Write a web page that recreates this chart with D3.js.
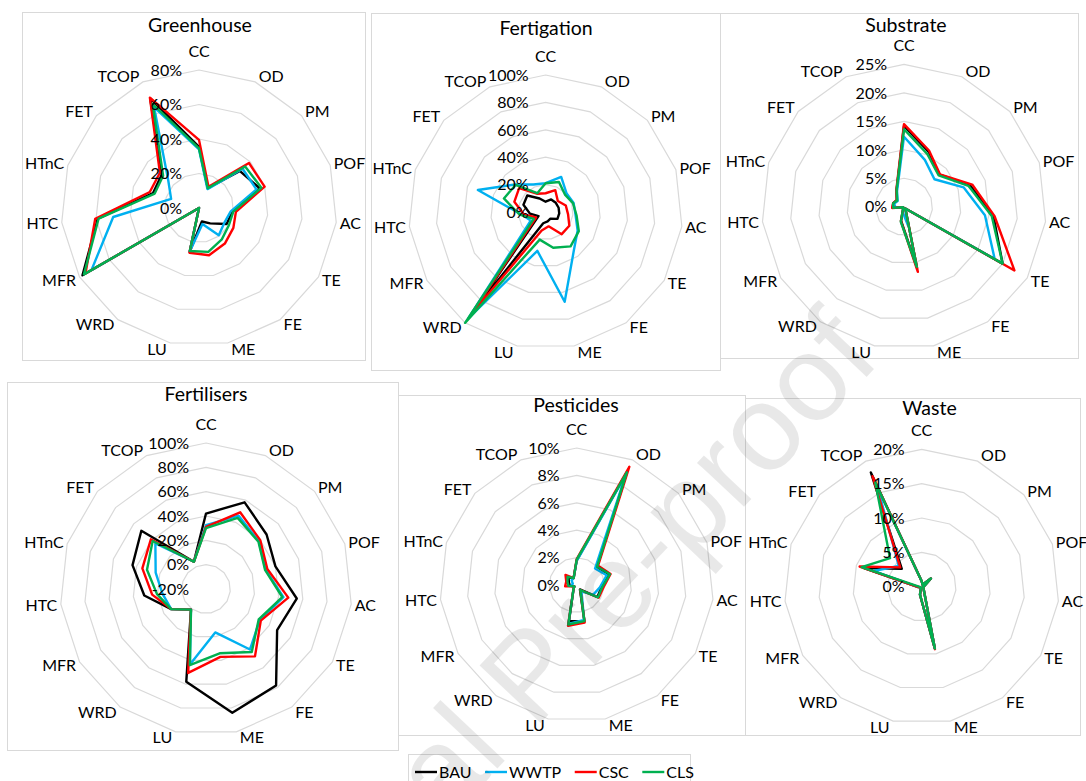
<!DOCTYPE html>
<html>
<head>
<meta charset="utf-8">
<script src="https://cdn.jsdelivr.net/npm/d3@7"></script>
<style>
  body { margin: 0; background: #ffffff; }
  svg text { font-family: Lato, "Open Sans", sans-serif; fill: #000; }
</style>
</head>
<body>
<svg id="chart" width="1086" height="781"></svg>
<script>
// Impact categories, clockwise from the top
const categories = ["CC", "OD", "PM", "POF", "AC", "TE", "FE", "ME", "LU", "WRD", "MFR", "HTC", "HTnC", "FET", "TCOP"];
const seriesNames = ["BAU", "WWTP", "CSC", "CLS"];
const seriesColors = ["#000000", "#00b0f0", "#ff0000", "#00b050"];

// Greenhouse contribution (%)
const greenhouseBAU  = [35.5, 12.5, 32, 37, 19.5, 18.5, 11, 8, 26, 0, 78, 59, 28, 29, 69.5];
const greenhouseWWTP = [34, 12, 34, 35, 18.5, 17, 19.5, 9.5, 26, 0, 72, 50, 17, 24, 64];
const greenhouseCSC  = [39.5, 13.5, 39, 40, 21.5, 23, 25.5, 28, 26.5, 0, 76, 60.5, 30, 30.5, 70];
const greenhouseCLS  = [34.5, 12.5, 36, 38, 20, 20, 22.5, 26, 25.5, 0, 77, 58.5, 27, 28, 66];
const greenhouseTicks = [0, 20, 40, 60, 80];

// Fertigation contribution (%)
const fertigationBAU  = [7.5, 10, 10, 10, 10, 10, 6, 7, 8.4, 87, 6, 11.5, 17, 18, 10.8];
const fertigationWWTP = [21, 28, 20.5, 21.5, 22, 27, 35, 67, 29, 96, 12.6, 17.6, 52, 30, 22];
const fertigationCSC  = [13.7, 17.4, 12, 15.5, 16.5, 20, 20, 10.7, 13.8, 92, 8, 16, 24, 26, 14.6];
const fertigationCLS  = [21, 24, 19, 21, 22.7, 28, 31, 26.7, 20.6, 100, 10, 19, 32, 29.5, 15];
const fertigationTicks = [0, 20, 40, 60, 80, 100];

// Substrate contribution (%)
const substrateBAU  = [14.2, 10.6, 8.4, 12.2, 15.8, 20, 0.4, 11, 2.5, 0.2, 0.2, 2, 2, 1.7, 3.2];
const substrateWWTP = [12.3, 9, 7.2, 11, 14.3, 18.4, 0.4, 3.4, 1, 0.2, 0.2, 1.5, 1.8, 1.5, 3];
const substrateCSC  = [14.5, 10.8, 8.5, 12.6, 16, 22.4, 0.4, 11.7, 2.6, 0.2, 0.2, 2.1, 2, 1.7, 3.3];
const substrateCLS  = [13.6, 10.1, 8.2, 11.9, 15.5, 20, 0.4, 10.8, 2.7, 0.2, 0.2, 1.9, 2, 1.6, 3.2];
const substrateTicks = [0, 5, 10, 15, 20, 25];

// Fertilisers contribution (%)
const fertilisersBAU  = [42, 58, 47, 40, 55, 47.5, 78, 84, 58, 1, 13, 31, 43.5, 51.5, 4.5];
const fertilisersWWTP = [32.5, 46, 38.5, 31.5, 44, 31, 41.5, 16.5, 43.5, 1, 13, 16, 23.5, 36, 4.5];
const fertilisersCSC  = [31, 49, 40, 33, 48, 32, 48.5, 37, 50.5, 1, 13, 24.5, 35, 41, 4.5];
const fertilisersCLS  = [30, 44, 38, 31, 43, 30, 44, 34, 44, 1, 13, 20.5, 31, 39, 4.5];
const fertilisersTicks = [-20, 0, 20, 40, 60, 80, 100];

// Pesticides contribution (%)
const pesticidesBAU  = [1.8, 9.0, 2.0, 2.5, 1.8, 1.75, 0.4, 2.7, 2.7, 0.4, 0.2, 0.5, 0.6, 0.8, 0.55];
const pesticidesWWTP = [1.75, 8.8, 1.8, 2.3, 1.7, 1.4, 0.6, 2.6, 2.9, 0.4, 0.2, 0.4, 0.3, 0.5, 0.55];
const pesticidesCSC  = [1.9, 9.45, 2.1, 2.6, 1.95, 1.85, 0.45, 2.8, 3.05, 0.4, 0.2, 0.85, 0.8, 1.1, 0.55];
const pesticidesCLS  = [1.85, 9.0, 2.0, 2.55, 1.85, 1.8, 0.45, 2.7, 2.95, 0.4, 0.2, 0.6, 0.7, 0.9, 0.55];
const pesticidesTicks = [0, 2, 4, 6, 8, 10];

// Waste contribution (%)
const wasteBAU  = [0.8, 0.3, 1.8, 0.4, 0.2, 0.3, 0.5, 9.2, 1.2, 0.2, 0.2, 0.5, 8.8, 3.9, 18.2];
const wasteWWTP = [0.8, 0.3, 1.8, 0.4, 0.2, 0.3, 0.5, 9.2, 1.2, 0.2, 0.2, 0.5, 7.4, 4.5, 15.7];
const wasteCSC  = [0.8, 0.3, 1.8, 0.4, 0.2, 0.3, 0.5, 9.3, 1.2, 0.2, 0.2, 0.5, 9.5, 4.2, 17.6];
const wasteCLS  = [0.8, 0.3, 1.8, 0.4, 0.2, 0.3, 0.5, 9.2, 1.2, 0.2, 0.2, 0.3, 9.2, 6.2, 16.6];
const wasteTicks = [0, 5, 10, 15, 20];

// Panel layout: frame box, radar centre/radius, title position
const panels = [
  { title: "Greenhouse",  series: [greenhouseBAU, greenhouseWWTP, greenhouseCSC, greenhouseCLS], ticks: greenhouseTicks,
    frame: [22, 12, 343, 348], cx: 199, cy: 208, r: 138, tx: 200, ty: 31.5 },
  { title: "Fertigation", series: [fertigationBAU, fertigationWWTP, fertigationCSC, fertigationCLS], ticks: fertigationTicks,
    frame: [371, 13, 349, 357], cx: 545.6, cy: 212, r: 137, tx: 546, ty: 35 },
  { title: "Substrate",   series: [substrateBAU, substrateWWTP, substrateCSC, substrateCLS], ticks: substrateTicks,
    frame: [720, 13, 358, 345], cx: 904, cy: 206.7, r: 142.3, tx: 906, ty: 31.5 },
  { title: "Fertilisers", series: [fertilisersBAU, fertilisersWWTP, fertilisersCSC, fertilisersCLS], ticks: fertilisersTicks,
    frame: [7, 382, 391, 368], cx: 206, cy: 589, r: 146, tx: 206, ty: 401 },
  { title: "Pesticides",  series: [pesticidesBAU, pesticidesWWTP, pesticidesCSC, pesticidesCLS], ticks: pesticidesTicks,
    frame: [398, 395, 347, 340], cx: 576.7, cy: 585, r: 137, tx: 576, ty: 412 },
  { title: "Waste",       series: [wasteBAU, wasteWWTP, wasteCSC, wasteCLS], ticks: wasteTicks,
    frame: [745, 398, 335, 337], cx: 921.7, cy: 586.7, r: 137.4, tx: 929.5, ty: 415 }
];

const svg = d3.select("#chart");
const n = categories.length;
const angle = d3.scaleLinear().domain([0, n]).range([0, 2 * Math.PI]);
const gridColor = "#d9d9d9";
const labelSize = "16px";

panels.forEach(p => {
  const g = svg.append("g");
  const [fx, fy, fw, fh] = p.frame;
  g.append("rect").attr("x", fx + 0.5).attr("y", fy + 0.5).attr("width", fw).attr("height", fh)
    .attr("fill", "#fff").attr("stroke", gridColor).attr("stroke-width", 1);

  const rScale = d3.scaleLinear().domain([p.ticks[0], p.ticks[p.ticks.length - 1]]).range([0, p.r]);
  const plot = g.append("g").attr("transform", `translate(${p.cx},${p.cy})`);

  // gridline rings
  const ring = d3.lineRadial().angle((d, i) => angle(i)).radius(d => d).curve(d3.curveLinearClosed);
  p.ticks.slice(1).forEach(t => {
    plot.append("path").attr("d", ring(categories.map(() => rScale(t))))
      .attr("fill", "none").attr("stroke", gridColor).attr("stroke-width", 1.2);
  });

  // series polygons
  const line = d3.lineRadial().angle((d, i) => angle(i)).radius(d => rScale(d)).curve(d3.curveLinearClosed);
  p.series.forEach((vals, k) => {
    plot.append("path").attr("d", line(vals))
      .attr("fill", "none").attr("stroke", seriesColors[k]).attr("stroke-width", 2.4)
      .attr("stroke-linejoin", "round");
  });

  // value axis labels
  p.ticks.forEach(t => {
    plot.append("text").attr("x", -17).attr("y", -rScale(t)).attr("dy", "0.36em")
      .attr("text-anchor", "end").style("font-size", labelSize).text(t + "%");
  });

  // category labels
  categories.forEach((c, i) => {
    const a = angle(i);
    const s = Math.sin(a), co = Math.cos(a);
    let x = p.r * s, y = -p.r * co, anchor;
    if (Math.abs(s) < 0.05) { anchor = "middle"; y -= 19; }
    else { anchor = s > 0 ? "start" : "end"; x += s > 0 ? 3.5 : -3.5; y -= 6 * co; }
    plot.append("text").attr("x", x).attr("y", y).attr("dy", "0.36em")
      .attr("text-anchor", anchor).style("font-size", labelSize).text(c);
  });

  g.append("text").attr("x", p.tx).attr("y", p.ty).attr("text-anchor", "middle")
    .style("font-size", "19.5px").text(p.title);
});

// legend
const legend = svg.append("g");
legend.append("rect").attr("x", 408.5).attr("y", 754.5).attr("width", 282).attr("height", 30)
  .attr("fill", "#fff").attr("stroke", gridColor);
let lx = 415;
seriesNames.forEach((name, k) => {
  legend.append("line").attr("x1", lx).attr("x2", lx + 22).attr("y1", 772).attr("y2", 772)
    .attr("stroke", seriesColors[k]).attr("stroke-width", 2.4);
  const t = legend.append("text").attr("x", lx + 24).attr("y", 772).attr("dy", "0.36em")
    .style("font-size", "16px").text(name);
  lx += 24 + t.node().getComputedTextLength() + 13.5;
});

// document watermark
svg.append("text").attr("transform", "translate(236,1046) rotate(-46.7)")
  .style("font-family", "'Liberation Sans', Arial, sans-serif").style("font-size", "122px")
  .style("fill", "#000").style("fill-opacity", 0.09).text("Journal Pre-proof");
</script>
</body>
</html>
